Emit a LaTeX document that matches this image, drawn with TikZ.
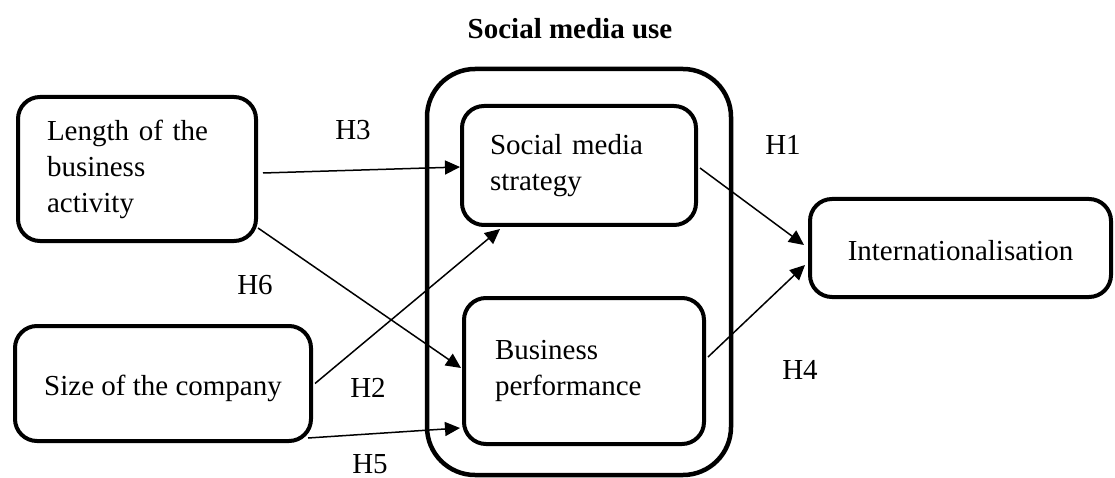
\documentclass[tikz,border=0pt]{standalone}
\usepackage{fontspec}
\setmainfont{Liberation Serif}
\usetikzlibrary{calc,arrows.meta}
\tikzset{
  box/.style={draw=black, line width=4pt, rounded corners=22pt, outer sep=0pt, inner sep=0pt,
    font=\fontsize{29}{36}\selectfont},
  outerbox/.style={draw=black, line width=4.5pt, rounded corners=48pt, outer sep=0pt, inner sep=0pt},
  lbl/.style={font=\fontsize{29}{36}\selectfont, inner sep=0pt},
  arr/.style={line width=1.5pt, -{Triangle[length=15pt,width=14pt]}}
}
\begin{document}
\begin{tikzpicture}[x=1pt,y=-1pt]
\useasboundingbox (0,0) rectangle (1115,478);
\node[outerbox, minimum width=304pt, minimum height=406pt] (outer) at (579,272) {};
\node[lbl, font=\fontsize{29}{36}\selectfont\bfseries] (title) at (570,29) {Social media use};
\node[box, minimum width=238pt, minimum height=144pt, text width=180pt, align=left] (len) at (137,169) {Length of the\\business\\activity};
\node[box, minimum width=296pt, minimum height=115pt, text height=30pt] (size) at (163,383.5) {Size of the company};
\node[box, minimum width=234pt, minimum height=119pt, text width=178pt, align=left] (strat) at (579,165.5) {Social media\\strategy};
\node[box, minimum width=240pt, minimum height=146pt, text width=178pt, align=left] (perf) at (584,371) {Business\\performance};
\node[box, minimum width=301pt, minimum height=98pt, text height=26pt] (intern) at (960.5,248) {Internationalisation};
\node[lbl] (h3) at (353,130) {H3};
\node[lbl] (h6) at (255,285) {H6};
\node[lbl] (h2) at (368,388) {H2};
\node[lbl] (h5) at (370,464) {H5};
\node[lbl] (h1) at (783,145) {H1};
\node[lbl] (h4) at (800,370) {H4};
\draw[arr] ($(len.east)+(7,4)$) -- ($(strat.west)+(-2,1.5)$);
\draw[arr] ($(len.south east)+(2,-13)$) -- ($(perf.west)+(-3,-3)$);
\draw[arr] ($(size.east)+(4,0)$) -- ($(strat.south)+(-79,4)$);
\draw[arr] ($(size.south east)+(-3,-3)$) -- ($(perf.west)+(-4,57)$);
\draw[arr] ($(strat.east)+(4,2.5)$) -- ($(intern.west)+(-6,-3)$);
\draw[arr] ($(perf.east)+(4,-14)$) -- ($(intern.west)+(-5,17)$);
\end{tikzpicture}
\end{document}
